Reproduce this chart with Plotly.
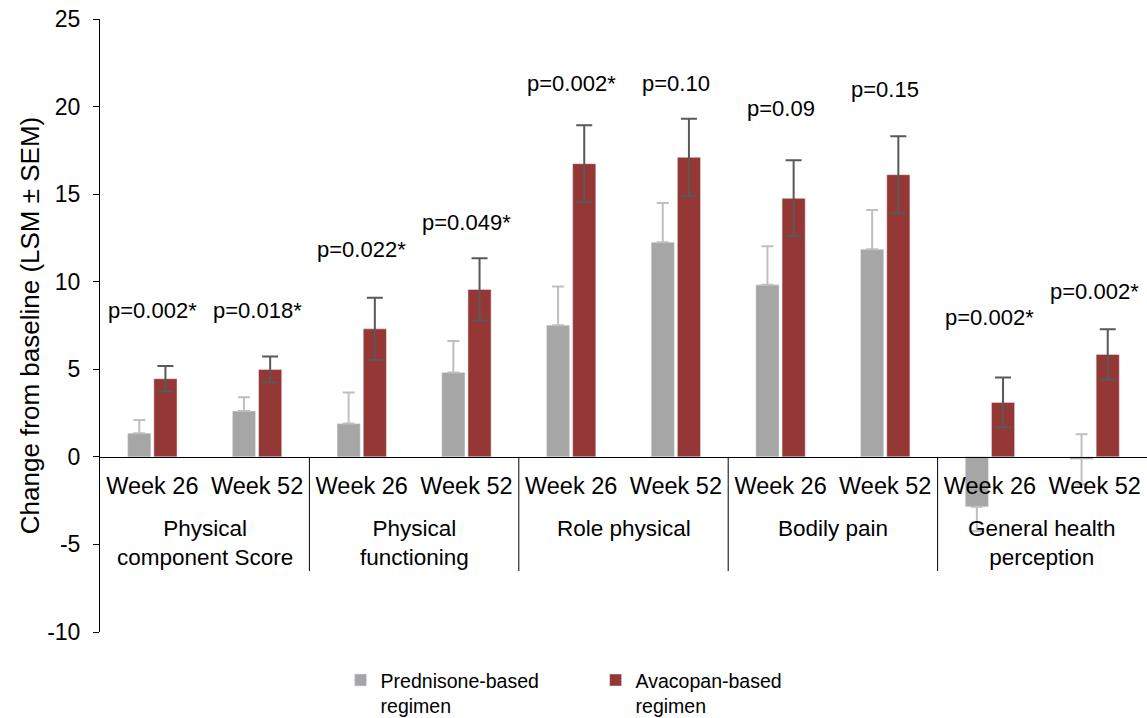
import plotly.graph_objects as go

# SF-36 physical domains: change from baseline (LSM ± SEM)
domains = ["Physical<br>component Score", "Physical<br>functioning", "Role physical",
           "Bodily pain", "General health<br>perception"]
weeks = ["Week 26", "Week 52"]

prednisone = [1.35, 2.62, 1.90, 4.82, 7.52, 12.25, 9.82, 11.85, -2.85, -0.14]
prednisone_err_up = [0.75, 0.78, 1.78, 1.80, 2.20, 2.25, 2.20, 2.25, 0.00, 1.43]
prednisone_err_down = [0.00, 0.00, 0.00, 0.00, 0.00, 0.00, 0.00, 0.00, 1.40, 1.43]

avacopan = [4.46, 4.99, 7.31, 9.56, 16.74, 17.10, 14.76, 16.11, 3.11, 5.85]
avacopan_sem = [0.73, 0.74, 1.78, 1.78, 2.20, 2.20, 2.17, 2.20, 1.42, 1.44]

p_labels = ["p=0.002*", "p=0.018*", "p=0.022*", "p=0.049*", "p=0.002*",
            "p=0.10", "p=0.09", "p=0.15", "p=0.002*", "p=0.002*"]
p_label_y = [8.35, 8.35, 11.83, 13.39, 21.3, 21.3, 19.87, 21.0, 7.94, 9.42]

y_ticks = [-10, -5, 0, 5, 10, 15, 20, 25]
y_tick_text = ["-10", "-5", "0", "5", "10", "15", "20", "25"]

FONT = "Liberation Sans, Arial, sans-serif"
slots = list(range(len(domains) * len(weeks)))
week_ticks = [weeks[i % 2] for i in slots]

fig = go.Figure()
fig.add_trace(go.Bar(
    x=slots, y=prednisone, name="Prednisone-based<br>regimen",
    marker=dict(color="#A6A6A6"),
    error_y=dict(type="data", symmetric=False, array=prednisone_err_up,
                 arrayminus=prednisone_err_down, color="#BFBFBF",
                 thickness=2, width=6),
))
fig.add_trace(go.Bar(
    x=slots, y=avacopan, name="Avacopan-based<br>regimen",
    marker=dict(color="#953735"),
    error_y=dict(type="data", array=avacopan_sem, color="#595959",
                 thickness=2, width=8),
))

# p-values above each pair of bars
for i, (txt, yv) in enumerate(zip(p_labels, p_label_y)):
    fig.add_annotation(x=i, y=yv, text=txt, showarrow=False,
                       font=dict(family=FONT, size=22, color="black"),
                       xanchor="center", yanchor="middle")

# domain names under the week labels, with separators between domains
for g, name in enumerate(domains):
    fig.add_annotation(x=2 * g + 0.5, y=-3.25, text=name, showarrow=False,
                       font=dict(family=FONT, size=22.5, color="black"),
                       xanchor="center", yanchor="top", align="center")
for g in range(1, len(domains)):
    fig.add_shape(type="line", x0=2 * g - 0.5, x1=2 * g - 0.5, y0=0, y1=-6.52,
                  xref="x", yref="y", line=dict(color="black", width=1))

fig.update_layout(
    width=1147, height=718,
    margin=dict(l=100, r=0, t=19, b=86, autoexpand=False),
    paper_bgcolor="white", plot_bgcolor="white",
    barmode="group", bargap=0.50, bargroupgap=0.115,
    font=dict(family=FONT, color="black"),
    showlegend=True,
    legend=dict(orientation="h", x=0.2298, xanchor="left", y=-0.047, yanchor="top",
                font=dict(family=FONT, size=19.5, color="black"),
                valign="top", entrywidth=210, entrywidthmode="pixels",
                traceorder="normal"),
    xaxis=dict(
        range=[-0.5, 9.5], tickvals=slots, ticktext=week_ticks,
        anchor="free", position=10 / 35,
        showline=True, linecolor="black", linewidth=1.3,
        ticks="", showgrid=False, zeroline=False, ticklabelstandoff=8,
        tickfont=dict(family=FONT, size=23.5, color="black"),
    ),
    yaxis=dict(
        range=[-10, 25], tickvals=y_ticks, ticktext=y_tick_text,
        showline=True, linecolor="black", linewidth=1,
        ticks="outside", ticklen=6, tickcolor="black",
        showgrid=False, zeroline=False, ticklabelstandoff=8,
        tickfont=dict(family=FONT, size=23, color="black"),
        title=dict(text="Change from baseline (LSM ± SEM)", standoff=0,
                   font=dict(family=FONT, size=26, color="black")),
    ),
)

fig.write_html("out.html")
